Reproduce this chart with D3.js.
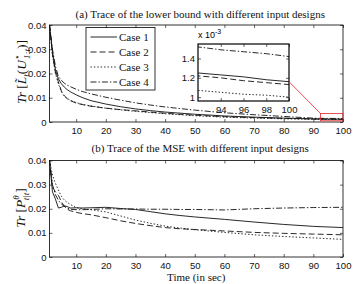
<!DOCTYPE html>
<html>
<head>
<meta charset="utf-8">
<title>Trace of lower bound and MSE</title>
<script src="https://cdn.jsdelivr.net/npm/d3@7"></script>
<style>
  body { margin: 0; padding: 0; background: #fff; }
  .tick text { font-family: 'Liberation Sans', Arial, sans-serif; font-size: 9.5px; fill: #111; }
  .title, .leg text, .ylab, .xlab { font-family: 'Liberation Serif', 'Times New Roman', serif; fill: #111; }
  .title { font-size: 11px; }
  .line { fill: none; stroke: #111; stroke-width: 0.9; }
</style>
</head>
<body>
<div id="vis"></div>
<script>
// ---- data ----
var cases = ['Case 1', 'Case 2', 'Case 3', 'Case 4'];
var dashes = [null, '6,3', '1.4,2', '6,2,1.4,2'];

// (a) lower bound trace
var tTop = [1,2,3,4,5,6,7,8,10,12,15,20,25,30,35,40,50,60,70,80,90,92,94,96,98,100];
var lbCase1 = [0.04,0.029,0.0215,0.0178,0.0158,0.0144,0.0133,0.0125,0.0112,0.0101,0.0088,0.0074,0.0063,0.0054,0.0047,0.0041,0.0032,0.0025,0.002,0.0016,0.00128,0.00125,0.00123,0.00121,0.00118,0.00116];
var lbCase2 = [0.04,0.028,0.0205,0.0165,0.0128,0.0108,0.0096,0.0088,0.0078,0.0072,0.0065,0.0057,0.0051,0.0046,0.0041,0.0036,0.0028,0.0022,0.0018,0.0015,0.00125,0.00122,0.0012,0.00117,0.00115,0.00113];
var lbCase3 = [0.04,0.0275,0.02,0.0158,0.0125,0.0106,0.0097,0.009,0.008,0.0073,0.0066,0.0057,0.005,0.0044,0.0039,0.0034,0.0026,0.002,0.0016,0.0013,0.00109,0.00107,0.00105,0.00103,0.00102,0.001];
var lbCase4 = [0.04,0.03,0.023,0.0188,0.0172,0.016,0.0152,0.0146,0.0135,0.0126,0.0116,0.0102,0.009,0.0079,0.007,0.0062,0.0049,0.0038,0.003,0.0023,0.00158,0.00152,0.00149,0.00147,0.00145,0.00142];

// (b) MSE trace
var tBot = [1,2,3,4,5,6,7,8,10,12,15,20,25,30,35,40,45,50,60,70,80,90,100];
var mseCase1 = [0.04,0.027,0.024,0.0203,0.0206,0.0212,0.0209,0.0203,0.0204,0.0203,0.0204,0.0206,0.0201,0.0197,0.0188,0.0179,0.0172,0.0166,0.0156,0.0145,0.0135,0.0127,0.0122];
var mseCase2 = [0.04,0.029,0.027,0.0255,0.023,0.021,0.0198,0.0192,0.0185,0.018,0.0175,0.0163,0.015,0.0139,0.013,0.0122,0.0117,0.0114,0.0108,0.0102,0.0098,0.0095,0.0092];
var mseCase3 = [0.04,0.034,0.0305,0.0278,0.0252,0.0236,0.0226,0.0218,0.0205,0.02,0.0196,0.0187,0.017,0.0153,0.014,0.0128,0.012,0.0113,0.0102,0.0092,0.0085,0.0079,0.0073];
var mseCase4 = [0.04,0.03,0.0258,0.0235,0.022,0.021,0.0203,0.0198,0.0196,0.0196,0.0197,0.02,0.0199,0.0199,0.0198,0.0198,0.0197,0.0197,0.0195,0.02,0.0203,0.0205,0.0206];

var xTicks = [10,20,30,40,50,60,70,80,90,100];
var yTicks = [0,0.01,0.02,0.03,0.04];
var insetXDomain = [92, 100];
var insetYDomain = [0.96, 1.55];  // x 10^-3
var insetXTicks = [94,96,98,100];
var insetYTicks = [1,1.2,1.4];
var zoomBox = {x0: 92.4, x1: 100, y0: 0.0005, y1: 0.0035};

// ---- layout ----
var W = 354, H = 284;
var left = 49.5, right = 343;
var svg = d3.select('#vis').append('svg').attr('width', W).attr('height', H);

var x = d3.scaleLinear().domain([1, 100]).range([left, right]);

function panel(top, bottom, id) {
  var y = d3.scaleLinear().domain([0, 0.04]).range([bottom, top]);
  var g = svg.append('g');
  svg.append('clipPath').attr('id', id).append('rect')
    .attr('x', left).attr('y', top).attr('width', right - left).attr('height', bottom - top);

  // ticks on all four sides, pointing in
  g.append('g').attr('transform', 'translate(0,' + bottom + ')')
    .call(d3.axisBottom(x).tickValues(xTicks).tickSize(-3).tickPadding(5).tickFormat(d3.format('d')));
  g.append('g').attr('transform', 'translate(0,' + top + ')')
    .call(d3.axisTop(x).tickValues(xTicks).tickSize(-3).tickFormat(''));
  g.append('g').attr('transform', 'translate(' + left + ',0)')
    .call(d3.axisLeft(y).tickValues(yTicks).tickSize(-3).tickPadding(3).tickFormat(function(d) { return d === 0 ? '0' : d3.format('.2f')(d); }));
  g.append('g').attr('transform', 'translate(' + right + ',0)')
    .call(d3.axisRight(y).tickValues(yTicks).tickSize(-3).tickFormat(''));
  g.selectAll('.domain').remove();
  g.selectAll('.tick line').attr('stroke', '#000').attr('stroke-width', 0.6);
  g.append('rect').attr('x', left).attr('y', top).attr('width', right - left).attr('height', bottom - top)
    .attr('fill', 'none').attr('stroke', '#000').attr('stroke-width', 0.8);
  return {g: g, y: y};
}

function drawLines(g, xs, series, xScale, yScale, clip) {
  var line = d3.line().x(function(d) { return xScale(d[0]); }).y(function(d) { return yScale(d[1]); });
  series.forEach(function(vals, i) {
    g.append('path').attr('class', 'line')
      .attr('clip-path', 'url(#' + clip + ')')
      .attr('stroke-dasharray', dashes[i])
      .attr('d', line(xs.map(function(t, k) { return [t, vals[k]]; })));
  });
}

// ---- panel (a) ----
var pa = panel(25, 122, 'clipA');
drawLines(pa.g, tTop, [lbCase1, lbCase2, lbCase3, lbCase4], x, pa.y, 'clipA');

svg.append('text').attr('class', 'title').attr('x', (left + right) / 2 + 4).attr('y', 18)
  .attr('text-anchor', 'middle').text('(a) Trace of the lower bound with different input designs');

// zoom rectangle
pa.g.append('rect').attr('x', x(zoomBox.x0)).attr('y', pa.y(zoomBox.y1))
  .attr('width', x(zoomBox.x1) - x(zoomBox.x0)).attr('height', pa.y(zoomBox.y0) - pa.y(zoomBox.y1))
  .attr('fill', 'none').attr('stroke', '#e8262b').attr('stroke-width', 0.8);

// legend
var leg = svg.append('g').attr('class', 'leg');
leg.append('rect').attr('x', 86).attr('y', 27.5).attr('width', 69).attr('height', 62.5)
  .attr('fill', '#fff').attr('stroke', '#000').attr('stroke-width', 0.8);
cases.forEach(function(c, i) {
  var yy = 37 + i * 15;
  leg.append('line').attr('x1', 90.5).attr('x2', 117).attr('y1', yy).attr('y2', yy)
    .attr('stroke', '#111').attr('stroke-width', 0.9).attr('stroke-dasharray', dashes[i]);
  leg.append('text').attr('x', 119).attr('y', yy + 4).style('font-size', '11px').text(c);
});

// inset
var ix = d3.scaleLinear().domain(insetXDomain).range([198, 289]);
var iy = d3.scaleLinear().domain(insetYDomain).range([101, 44]);
var ig = svg.append('g');
svg.append('clipPath').attr('id', 'clipI').append('rect')
  .attr('x', 198).attr('y', 44).attr('width', 91).attr('height', 57);
ig.append('rect').attr('x', 198).attr('y', 44).attr('width', 91).attr('height', 57).attr('fill', '#fff');
var topScaled = [lbCase1, lbCase2, lbCase3, lbCase4].map(function(v) { return v.map(function(d) { return d * 1000; }); });
drawLines(ig, tTop, topScaled, ix, iy, 'clipI');
var ia = ig.append('g');
ia.append('g').attr('transform', 'translate(0,101)')
  .call(d3.axisBottom(ix).tickValues(insetXTicks).tickSize(-3).tickPadding(5).tickFormat(d3.format('d')));
ia.append('g').attr('transform', 'translate(0,44)')
  .call(d3.axisTop(ix).tickValues(insetXTicks).tickSize(-3).tickFormat(''));
ia.append('g').attr('transform', 'translate(198,0)')
  .call(d3.axisLeft(iy).tickValues(insetYTicks).tickSize(-3).tickPadding(3).tickFormat(function(d) { return d3.format('.1~f')(d); }));
ia.append('g').attr('transform', 'translate(289,0)')
  .call(d3.axisRight(iy).tickValues(insetYTicks).tickSize(-3).tickFormat(''));
ia.selectAll('.domain').remove();
ia.selectAll('.tick line').attr('stroke', '#000').attr('stroke-width', 0.6);
ig.append('rect').attr('x', 198).attr('y', 44).attr('width', 91).attr('height', 57)
  .attr('fill', 'none').attr('stroke', '#000').attr('stroke-width', 1.2);
var exp = ig.append('text').attr('x', 198).attr('y', 38)
  .style('font-family', "'Liberation Sans', Arial, sans-serif").style('font-size', '9px');
exp.append('tspan').text('x 10');
exp.append('tspan').attr('dy', -4).style('font-size', '7px').text('-3');

// connector
svg.append('line').attr('x1', 289).attr('y1', iy(1.16))
  .attr('x2', x(zoomBox.x0)).attr('y2', pa.y(zoomBox.y1))
  .attr('stroke', '#e8262b').attr('stroke-width', 0.8);

// y label (a)
var ya = svg.append('text').attr('class', 'ylab')
  .attr('transform', 'translate(26,' + 72 + ') rotate(-90)')
  .attr('text-anchor', 'middle').style('font-size', '13.5px');
ya.append('tspan').style('font-style', 'italic').text('Tr');
ya.append('tspan').text(' [');
ya.append('tspan').style('font-style', 'italic').text('L\u0303');
ya.append('tspan').style('font-style', 'italic').style('font-size', '9px').attr('dy', 3).text('t');
ya.append('tspan').attr('dy', -3).text('(');
ya.append('tspan').style('font-style', 'italic').text('U');
ya.append('tspan').style('font-size', '9px').attr('dy', -6).text('\u22C6');
ya.append('tspan').style('font-size', '9px').style('font-style', 'italic').attr('dx', -5).attr('dy', 10).text('1:t');
ya.append('tspan').attr('dy', -4).text(')]');

// ---- panel (b) ----
var pb = panel(160.5, 257, 'clipB');
drawLines(pb.g, tBot, [mseCase1, mseCase2, mseCase3, mseCase4], x, pb.y, 'clipB');

svg.append('text').attr('class', 'title').attr('x', (left + right) / 2 + 4).attr('y', 152)
  .attr('text-anchor', 'middle').text('(b) Trace of the MSE with different input designs');

svg.append('text').attr('class', 'xlab').attr('x', (left + right) / 2).attr('y', 281)
  .attr('text-anchor', 'middle').style('font-size', '11px').text('Time (in sec)');

var yb = svg.append('text').attr('class', 'ylab')
  .attr('transform', 'translate(25,' + 208 + ') rotate(-90)')
  .attr('text-anchor', 'middle').style('font-size', '13.5px');
yb.append('tspan').style('font-style', 'italic').text('Tr');
yb.append('tspan').text(' [');
yb.append('tspan').style('font-style', 'italic').text('P');
yb.append('tspan').style('font-style', 'italic').style('font-size', '9px').attr('dy', -6).text('\u03B8');
yb.append('tspan').style('font-style', 'italic').style('font-size', '9px').attr('dx', -5).attr('dy', 10).text('t|t');
yb.append('tspan').attr('dy', -4).text(']');
</script>
</body>
</html>
